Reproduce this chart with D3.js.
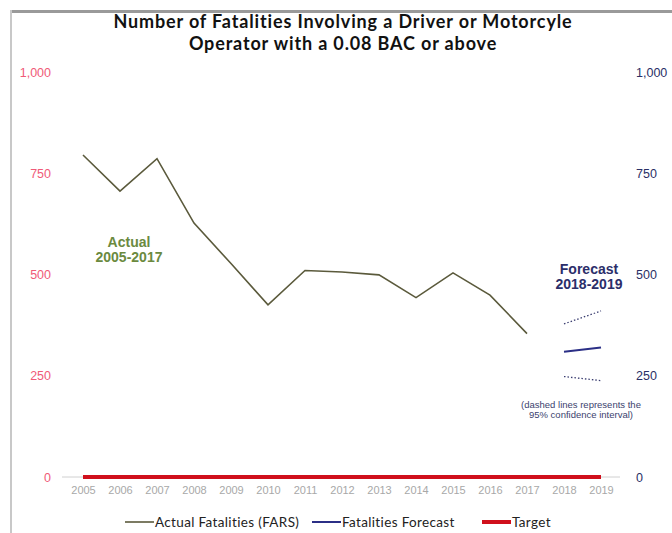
<!DOCTYPE html>
<html>
<head>
<meta charset="utf-8">
<script src="https://cdn.jsdelivr.net/npm/d3@7"></script>
<style>
  body { margin: 0; background: #fff; }
  svg { display: block; }
  text { font-variant-ligatures: none; }
</style>
</head>
<body>
<svg id="chart"></svg>
<script>
const width = 672;
const height = 533;

// data
const years = [2005, 2006, 2007, 2008, 2009, 2010, 2011, 2012, 2013, 2014, 2015, 2016, 2017, 2018, 2019];
const actualYears = [2005, 2006, 2007, 2008, 2009, 2010, 2011, 2012, 2013, 2014, 2015, 2016, 2017];
const actualValues = [795, 706, 786, 627, 527, 425, 510, 506, 499, 443, 504, 449, 354];
const forecastYears = [2018, 2019];
const forecastValues = [309, 320];
const upperValues = [378, 410];
const lowerValues = [248, 238];
const targetValues = [0, 0, 0, 0, 0, 0, 0, 0, 0, 0, 0, 0, 0, 0, 0];
const yTicks = [0, 250, 500, 750, 1000];

const svg = d3.select('#chart')
            .attr('width', width)
            .attr('height', height)
            .style('font-family', 'Liberation Sans, Arial, sans-serif');

// slide frame (grey edge at top and left)
svg.append('rect').attr('x', 10).attr('y', 10).attr('width', width - 10).attr('height', 3).attr('fill', '#9a9a9a');
svg.append('rect').attr('x', 10).attr('y', 10).attr('width', 2).attr('height', height - 10).attr('fill', '#c8c8c8');

const x = d3.scalePoint().domain(years).range([83, 601]);
const y = d3.scaleLinear().domain([0, 1000]).range([477, 72]);

// title
const title = svg.append('text').attr('text-anchor', 'middle')
    .style('font-family', 'Lato, Open Sans, sans-serif').style('font-weight', 'bold')
    .style('font-size', '18px').style('letter-spacing', '0.85px').attr('fill', '#111');
title.append('tspan').attr('x', 343).attr('y', 28).text('Number of Fatalities Involving a Driver or Motorcyle');
title.append('tspan').attr('x', 343).attr('y', 50).text('Operator with a 0.08 BAC or above');

// left axis (red labels)
const leftAxis = svg.append('g')
    .attr('transform', 'translate(51,0)')
    .call(d3.axisLeft(y).tickValues(yTicks).tickSize(0).tickPadding(0).tickFormat(d3.format(',')));
leftAxis.select('.domain').remove();
leftAxis.selectAll('text').attr('fill', '#f05a78').style('font-size', '12.5px');

// right axis (navy labels)
const rightAxis = svg.append('g')
    .attr('transform', 'translate(636,0)')
    .call(d3.axisRight(y).tickValues(yTicks).tickSize(0).tickPadding(0).tickFormat(d3.format(',')));
rightAxis.select('.domain').remove();
rightAxis.selectAll('text').attr('fill', '#2a2f66').style('font-size', '12.5px');

// bottom axis
svg.append('line')
    .attr('x1', 62).attr('x2', 620)
    .attr('y1', y(0)).attr('y2', y(0))
    .attr('stroke', '#d0d0d0').attr('stroke-width', 1);
const bottomAxis = svg.append('g')
    .attr('transform', `translate(0,${y(0)})`)
    .call(d3.axisBottom(x).tickSize(0).tickPadding(9));
bottomAxis.select('.domain').remove();
bottomAxis.selectAll('text').attr('fill', '#a8a8a8').style('font-size', '11px');

// target
svg.append('path')
    .datum(targetValues)
    .attr('fill', 'none')
    .attr('stroke', '#d0101c')
    .attr('stroke-width', 4)
    .attr('d', d3.line().x((d, i) => x(years[i])).y(d => y(d)));

// actual
svg.append('path')
    .datum(actualValues)
    .attr('fill', 'none')
    .attr('stroke', '#5b5a3c')
    .attr('stroke-width', 1.6)
    .attr('d', d3.line().x((d, i) => x(actualYears[i])).y(d => y(d)));

// forecast + confidence interval
const fLine = d3.line().x((d, i) => x(forecastYears[i])).y(d => y(d));
svg.append('path').datum(forecastValues)
    .attr('fill', 'none').attr('stroke', '#2b2f86').attr('stroke-width', 2)
    .attr('d', fLine);
[upperValues, lowerValues].forEach(vals => {
    svg.append('path').datum(vals)
        .attr('fill', 'none').attr('stroke', '#3a3d70').attr('stroke-width', 1.3)
        .attr('stroke-dasharray', '1.5,2')
        .attr('d', fLine);
});

// annotations
const actualLbl = svg.append('text').attr('text-anchor', 'middle')
    .style('font-weight', 'bold').style('font-size', '14px').attr('fill', '#6b8a3f');
actualLbl.append('tspan').attr('x', 129).attr('y', 247).text('Actual');
actualLbl.append('tspan').attr('x', 129).attr('y', 262).text('2005-2017');

const fcLbl = svg.append('text').attr('text-anchor', 'middle')
    .style('font-weight', 'bold').style('font-size', '14px').attr('fill', '#2b2e6a');
fcLbl.append('tspan').attr('x', 589).attr('y', 274).text('Forecast');
fcLbl.append('tspan').attr('x', 589).attr('y', 289).text('2018-2019');

const ciLbl = svg.append('text').attr('text-anchor', 'middle')
    .style('font-size', '9.5px').attr('fill', '#3c3f6e');
ciLbl.append('tspan').attr('x', 581).attr('y', 408).text('(dashed lines represents the');
ciLbl.append('tspan').attr('x', 581).attr('y', 418).text('95% confidence interval)');

// legend
const legend = [
    {label: 'Actual Fatalities (FARS)', color: '#5b5a3c', w: 1.6, x: 125},
    {label: 'Fatalities Forecast', color: '#2b2f86', w: 2, x: 312},
    {label: 'Target', color: '#d0101c', w: 4, x: 482}
];
const lg = svg.append('g').style('font-family', 'Lato, Open Sans, sans-serif')
    .style('font-size', '13.5px').style('letter-spacing', '0.35px');
legend.forEach(l => {
    lg.append('line').attr('x1', l.x).attr('x2', l.x + 29).attr('y1', 522).attr('y2', 522)
        .attr('stroke', l.color).attr('stroke-width', l.w);
    lg.append('text').attr('x', l.x + 30).attr('y', 527).attr('fill', '#222').text(l.label);
});
</script>
</body>
</html>
